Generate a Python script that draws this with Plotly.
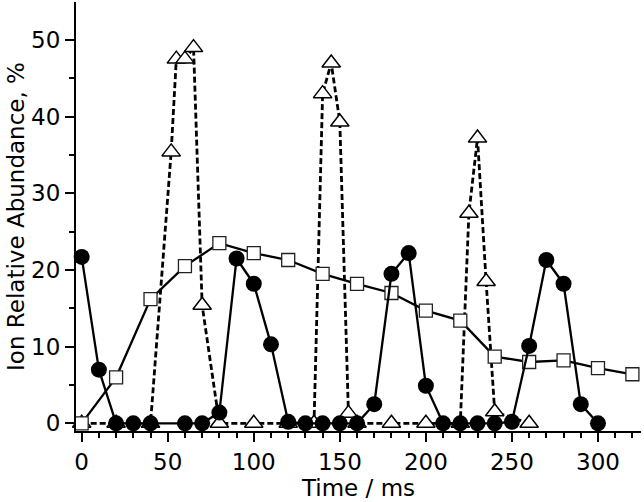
import plotly.graph_objects as go

# Filled circles (solid line)
circ_x = [0, 10, 20, 30, 40, 60, 70, 80, 90, 100, 110, 120, 130, 140, 150, 160, 170, 180, 190, 200,
          210, 220, 230, 240, 250, 260, 270, 280, 290, 300]
circ_y = [21.7, 7.0, 0, 0, 0, 0, 0, 1.4, 21.5, 18.2, 10.3, 0.2, 0, 0, 0, 0, 2.5, 19.5, 22.2, 4.9,
          0, 0, 0, 0, 0.2, 10.1, 21.3, 18.2, 2.5, 0]

# Open squares (solid line)
sq_x = [0, 20, 40, 60, 80, 100, 120, 140, 160, 180, 200, 220, 240, 260, 280, 300, 320]
sq_y = [0, 6.0, 16.2, 20.5, 23.5, 22.2, 21.3, 19.5, 18.2, 17.0, 14.7, 13.4, 8.7, 8.0, 8.2, 7.2, 6.4]

# Open triangles (dashed line)
tri_x = [0, 20, 40, 52, 55, 60, 65, 70, 80, 100, 120, 135, 140, 145, 150, 155, 160, 180, 200,
         220, 225, 230, 235, 240, 260]
tri_y = [0, 0, 0, 35.4, 47.5, 47.5, 49.0, 15.4, 0, 0, 0, 0, 43.0, 47.0, 39.3, 1.3, 0, 0, 0,
         0, 27.4, 37.2, 18.5, 1.5, 0]

x_ticks = [0, 50, 100, 150, 200, 250, 300]
y_ticks = [0, 10, 20, 30, 40, 50]

fig = go.Figure()
fig.add_trace(go.Scatter(
    x=tri_x, y=tri_y, mode="lines+markers", cliponaxis=False,
    line=dict(color="black", width=2.8, dash="6px,3px"),
    marker=dict(symbol="triangle-up", size=16, color="white",
                line=dict(color="black", width=1.5))))
fig.add_trace(go.Scatter(
    x=sq_x, y=sq_y, mode="lines+markers", cliponaxis=False,
    line=dict(color="black", width=2.3),
    marker=dict(symbol="square", size=13, color="white",
                line=dict(color="#222", width=1.3))))
fig.add_trace(go.Scatter(
    x=circ_x, y=circ_y, mode="lines+markers", cliponaxis=False,
    line=dict(color="black", width=2.3),
    marker=dict(symbol="circle", size=16, color="black",
                line=dict(color="black", width=0))))

font_family = "DejaVu Sans, Liberation Sans, Arial, sans-serif"
fs = 23
fig.update_layout(
    width=644, height=502,
    margin=dict(l=76, r=3, t=2, b=71),
    paper_bgcolor="white", plot_bgcolor="white",
    showlegend=False,
    font=dict(family=font_family, color="black", size=fs),
    xaxis=dict(
        range=[-3.3, 325], tickvals=x_ticks, ticktext=[str(v) for v in x_ticks],
        showgrid=False, zeroline=False, showline=True, linecolor="black", linewidth=2,
        ticks="outside", ticklen=9, tickwidth=1.5, tickcolor="black",
        minor=dict(dtick=10, tick0=0, ticks="outside", ticklen=5, tickwidth=1.5, tickcolor="black"),
        tickfont=dict(size=fs),
        title=dict(text="Time / ms", font=dict(size=fs), standoff=0),
    ),
    yaxis=dict(
        range=[-1.0, 54.95], tickvals=y_ticks, ticktext=[str(v) for v in y_ticks],
        showgrid=False, zeroline=False, showline=True, linecolor="black", linewidth=2,
        ticks="outside", ticklen=9, tickwidth=1.5, tickcolor="black",
        minor=dict(dtick=5, tick0=0, ticks="outside", ticklen=5, tickwidth=1.5, tickcolor="black"),
        tickfont=dict(size=fs),
        title=dict(text="Ion Relative Abundance, %", font=dict(size=fs), standoff=0),
    ),
)

fig.write_html("out.html", config={"displayModeBar": False},
               post_script="document.body.style.margin='0px';")
